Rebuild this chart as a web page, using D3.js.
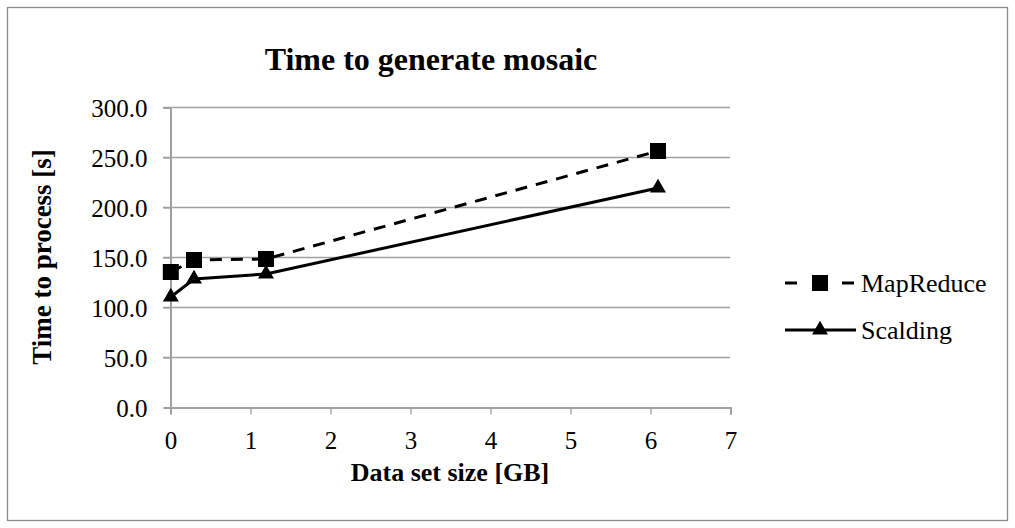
<!DOCTYPE html>
<html><head><meta charset="utf-8">
<script src="https://cdn.jsdelivr.net/npm/d3@7"></script>
<style>body{margin:0;background:#fff}svg{display:block;font-family:"Liberation Serif","Times New Roman",serif}</style>
</head><body>
<svg id="c" width="1015" height="528"></svg>
<script>
const seriesNames = ["MapReduce", "Scalding"];
const xValues = [0.01, 0.3, 1.2, 6.1];
const mapReduce = [135, 147, 148, 256];
const scalding = [110, 128, 133, 219];
const yTicks = [0, 50, 100, 150, 200, 250, 300];
const xTicks = [0, 1, 2, 3, 4, 5, 6, 7];

const FONT = "'Liberation Serif','Times New Roman',serif";
const svg = d3.select("#c");
svg.append("rect").attr("x", 7.5).attr("y", 7.5).attr("width", 1000).attr("height", 513)
  .attr("fill", "#fff").attr("stroke", "#8c8c8c").attr("stroke-width", 1.3);

const x = d3.scaleLinear().domain([0, 7]).range([170, 730]);
const y = d3.scaleLinear().domain([0, 300]).range([407, 107]);

// grid
svg.append("g").selectAll("line").data(yTicks.filter(d => d > 0)).join("line")
  .attr("x1", 163).attr("x2", 730).attr("y1", d => y(d) + 0.5).attr("y2", d => y(d) + 0.5)
  .attr("stroke", "#a0a0a0").attr("stroke-width", 1.3);

// y axis
const ya = svg.append("g").attr("transform", "translate(170.5,0.5)")
  .call(d3.axisLeft(y).tickValues(yTicks).tickFormat(d3.format(".1f")).tickSize(7));
ya.attr("font-family", FONT).attr("font-size", 25);
ya.select(".domain").attr("stroke", "#a0a0a0").attr("stroke-width", 2);
ya.selectAll(".tick line").attr("stroke", "#a0a0a0").attr("stroke-width", 1.3);
ya.selectAll("text").attr("fill", "#000").attr("x", -23).attr("dy", "0.34em");

// x axis
const xa = svg.append("g").attr("transform", "translate(0.5,407.5)")
  .call(d3.axisBottom(x).tickValues(xTicks).tickFormat(d3.format("d")).tickSize(7));
xa.attr("font-family", FONT).attr("font-size", 25);
xa.select(".domain").attr("stroke", "#a0a0a0").attr("stroke-width", 2);
xa.selectAll(".tick line").attr("stroke", "#a0a0a0").attr("stroke-width", 1.3);
xa.selectAll("text").attr("fill", "#000").attr("y", 41).attr("dy", 0);

const line = d3.line().x((d, i) => x(xValues[i])).y(d => y(d));
svg.append("path").datum(mapReduce).attr("d", line).attr("fill", "none")
  .attr("stroke", "#000").attr("stroke-width", 3).attr("stroke-dasharray", "12,9");
svg.append("path").datum(scalding).attr("d", line).attr("fill", "none")
  .attr("stroke", "#000").attr("stroke-width", 3);

const sq = d3.symbol().type(d3.symbolSquare).size(256);
const tri = d3.symbol().type(d3.symbolTriangle).size(110);
svg.append("g").selectAll("path").data(mapReduce).join("path")
  .attr("d", sq).attr("transform", (d, i) => `translate(${x(xValues[i])},${y(d)})`).attr("fill", "#000");
svg.append("g").selectAll("path").data(scalding).join("path")
  .attr("d", tri).attr("transform", (d, i) => `translate(${x(xValues[i])},${y(d)})`).attr("fill", "#000");

// titles
svg.append("text").attr("x", 431).attr("y", 70).attr("text-anchor", "middle")
  .attr("font-family", FONT).attr("font-size", 32).attr("font-weight", "bold").text("Time to generate mosaic");
svg.append("text").attr("x", 450).attr("y", 481).attr("text-anchor", "middle")
  .attr("font-family", FONT).attr("font-size", 26).attr("font-weight", "bold").text("Data set size [GB]");
svg.append("text").attr("transform", "translate(51,257) rotate(-90)").attr("text-anchor", "middle")
  .attr("font-family", FONT).attr("font-size", 27).attr("font-weight", "bold").text("Time to process [s]");

// legend
const lg = svg.append("g");
const ly = [283, 330];
lg.append("line").attr("x1", 785).attr("x2", 856).attr("y1", ly[0]).attr("y2", ly[0])
  .attr("stroke", "#000").attr("stroke-width", 3).attr("stroke-dasharray", "12,45");
lg.append("path").attr("d", sq).attr("transform", `translate(820,${ly[0]})`).attr("fill", "#000");
lg.append("line").attr("x1", 785).attr("x2", 856).attr("y1", ly[1]).attr("y2", ly[1])
  .attr("stroke", "#000").attr("stroke-width", 3);
lg.append("path").attr("d", tri).attr("transform", `translate(820,${ly[1]})`).attr("fill", "#000");
lg.selectAll("text.l").data(seriesNames).join("text").attr("class", "l")
  .attr("x", 861).attr("y", (d, i) => ly[i] + 9).attr("font-family", FONT).attr("font-size", 26).text(d => d);
</script>
</body></html>
